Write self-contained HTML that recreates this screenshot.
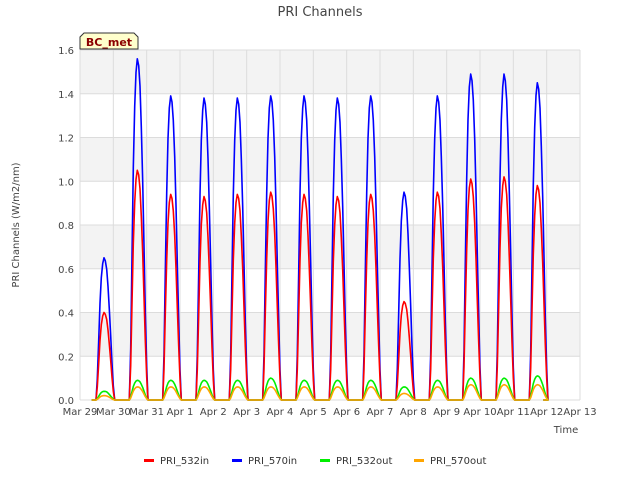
<!DOCTYPE html>
<html><head><meta charset="utf-8"><style>
body{margin:0;background:#fff;font-family:"Liberation Sans","DejaVu Sans",sans-serif;}
svg text{font-family:"DejaVu Sans","Liberation Sans",sans-serif;}
</style></head><body>
<svg id="c" width="640" height="480" viewBox="0 0 640 480">
<text x="320" y="16" text-anchor="middle" font-size="13" fill="#444">PRI Channels</text>
<g id="plot"></g>
<text x="19" y="225" text-anchor="middle" font-size="10" fill="#444" transform="rotate(-90 19 225)">PRI Channels (W/m2/nm)</text>
<text x="566" y="433" text-anchor="middle" font-size="10" fill="#444">Time</text>
<g>
<path d="M80,49 L80,37 L84,33 L134,33 L138,37 L138,49 Z" fill="#ffffcc" stroke="#333" stroke-width="1"/>
<text x="109" y="46" text-anchor="middle" font-size="11" font-weight="bold" fill="#8b0000">BC_met</text></g>
<g id="legend"></g>
</svg>
<script>
const dayLabels=["Mar 29","Mar 30","Mar 31","Apr 1","Apr 2","Apr 3","Apr 4","Apr 5","Apr 6","Apr 7","Apr 8","Apr 9","Apr 10","Apr 11","Apr 12","Apr 13"];
const yTicks=[0,0.2,0.4,0.6,0.8,1.0,1.2,1.4,1.6];
const peak570in=[0.65,1.56,1.39,1.38,1.38,1.39,1.39,1.38,1.39,0.95,1.39,1.49,1.49,1.45];
const peak532in=[0.40,1.05,0.94,0.93,0.94,0.95,0.94,0.93,0.94,0.45,0.95,1.01,1.02,0.98];
const peak532out=[0.04,0.09,0.09,0.09,0.09,0.10,0.09,0.09,0.09,0.06,0.09,0.10,0.10,0.11];
const peak570out=[0.02,0.06,0.06,0.06,0.06,0.06,0.06,0.06,0.06,0.03,0.06,0.07,0.07,0.07];
const profile=[0,0.15,0.42,0.68,0.86,0.96,1,0.98,0.92,0.8,0.64,0.45,0.26,0.1,0];
const profileStart=0.48, profileEnd=1.04;
const x0=80,x1=580,y0=400,y1=50;
const X=d=>x0+d/15*(x1-x0);
const Y=v=>y0-v/1.6*(y0-y1);
const NS="http://www.w3.org/2000/svg";
const plot=document.getElementById('plot');
function mk(t,a){const e=document.createElementNS(NS,t);for(const k in a)e.setAttribute(k,a[k]);return e;}
for(let i=0;i<yTicks.length-1;i++){if(i%2===1){const r=mk('rect',{x:x0,y:Y(yTicks[i+1]),width:x1-x0,height:Y(yTicks[i])-Y(yTicks[i+1]),fill:'#f3f3f3'});

plot.appendChild(r);}}
yTicks.forEach(v=>{const l=mk('line',{x1:x0,x2:x1,y1:Y(v),y2:Y(v),stroke:'#dcdcdc','stroke-width':1});

plot.appendChild(l);
const t=mk('text',{x:x0-6,y:Y(v)+4,'text-anchor':'end','font-size':10,fill:'#444'});t.textContent=v.toFixed(1);

plot.appendChild(t);});
dayLabels.forEach((s,i)=>{const l=mk('line',{x1:X(i),x2:X(i),y1:y1,y2:y0,stroke:'#dcdcdc','stroke-width':1});

plot.appendChild(l);
const t=mk('text',{x:X(i),y:y0+15,'text-anchor':'middle','font-size':10,fill:'#444'});t.textContent=s;

plot.appendChild(t);});
function series(peaks,color,name){let pts=[[X(0.35),Y(0)]];
peaks.forEach((p,d)=>{profile.forEach((f,k)=>{const t=d+profileStart+(profileEnd-profileStart)*k/(profile.length-1);pts.push([X(t),Y(p*f)]);});});
pts.push([X(13.9),Y(0)]);
const e=mk('polyline',{points:pts.map(q=>q[0].toFixed(1)+','+q[1].toFixed(1)).join(' '),fill:'none',stroke:color,'stroke-width':1.6,'stroke-linejoin':'round'});

plot.appendChild(e);}
series(peak570in,'#0000ff','series-pri-570in');
series(peak532in,'#ff0000','series-pri-532in');
series(peak532out,'#00ee00','series-pri-532out');
series(peak570out,'#ffa500','series-pri-570out');
const leg=document.getElementById('legend');
const items=[["PRI_532in","#ff0000",144],["PRI_570in","#0000ff",232],["PRI_532out","#00ee00",320],["PRI_570out","#ffa500",414]];
items.forEach(it=>{const g=mk('g',{});


g.appendChild(mk('rect',{x:it[2],y:459,width:10,height:3,fill:it[1]}));
const t=mk('text',{x:it[2]+16,y:464,'font-size':10,fill:'#333'});t.textContent=it[0];g.appendChild(t);leg.appendChild(g);});
</script>
</body></html>
